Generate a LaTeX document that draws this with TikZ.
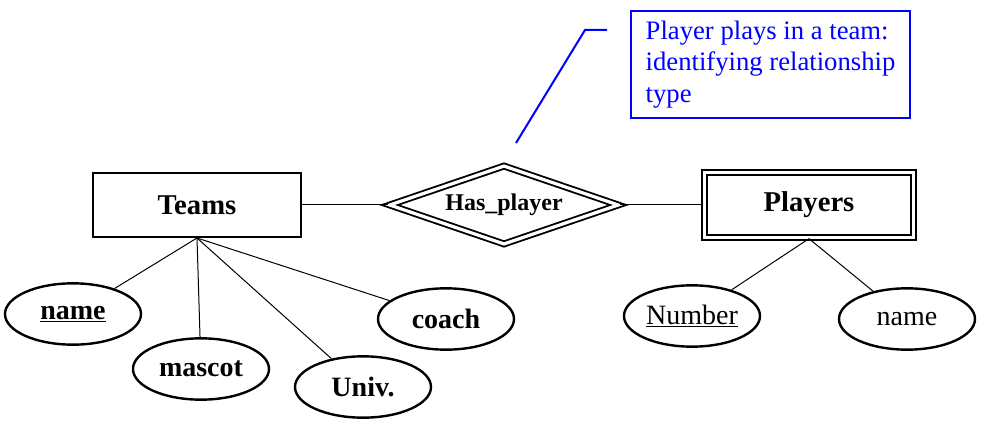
\documentclass[tikz,border=0pt]{standalone}
\usepackage{fontspec}
\setmainfont{Liberation Serif}
\usepackage{xcolor}
\usepackage{tikz}
\usetikzlibrary{shapes.geometric}
\usetikzlibrary{calc}

\begin{document}
\begin{tikzpicture}[x=0.75pt, y=-0.75pt,
  entity/.style={draw, line width=1.5pt, minimum width=156pt, minimum height=48pt, inner sep=0pt, font=\fontsize{21.5}{25}\selectfont\bfseries},
  weakentity/.style={draw, line width=1.5pt, double, double distance=2.4pt, minimum width=157pt, minimum height=49pt, inner sep=0pt, font=\fontsize{21.5}{25}\selectfont\bfseries},
  relation/.style={diamond, draw, line width=1.4pt, double, double distance=2.4pt, aspect=3, minimum width=172pt, minimum height=59pt, inner sep=0pt, font=\fontsize{18}{21}\selectfont\bfseries},
  attr/.style={ellipse, draw, line width=1.8pt, minimum width=102pt, minimum height=46pt, inner sep=0pt, font=\fontsize{21}{24}\selectfont},
  link/.style={line width=0.75pt},
  note/.style={draw=blue, text=blue, line width=1.5pt, align=left, minimum width=209pt, minimum height=80pt, inner sep=0pt, font=\fontsize{20}{23.5}\selectfont}]
  \useasboundingbox (0,0) rectangle (997,431);

  \node[entity] (teams) at (197,205) {Teams};
  \node[relation] (hasplayer) at (504,205) {Has\_player};
  \node[weakentity] (players) at (809,205) {\raisebox{-2.5pt}{Players}};

  \node[attr, font=\fontsize{21}{24}\selectfont\bfseries] (tname) at (73,314) {\underline{name}};
  \node[attr, font=\fontsize{21}{24}\selectfont\bfseries] (mascot) at (201,369) {mascot};
  \node[attr, font=\fontsize{21}{24}\selectfont\bfseries] (univ) at (363,387) {Univ.};
  \node[attr, font=\fontsize{21}{24}\selectfont\bfseries] (coach) at (446,319) {coach};
  \node[attr] (number) at (692,316) {\underline{Number}};
  \node[attr] (pname) at (907,319) {name};

  \draw[link] (teams) -- (hasplayer);
  \draw[link] (hasplayer) -- (players);
  \foreach \a in {tname, mascot, univ, coach}
    \draw[link] (teams.south) -- (\a);
  \foreach \a in {number, pname}
    \draw[link] (players.south) -- (\a);

  % callout
  \node[note] (comment) at (770.5,64.5) {Player plays in a team:\\identifying relationship\\type};
  \coordinate (tip) at (516,143);
  \coordinate (bend) at (585,30);
  \coordinate (tail) at (607,30);
  \draw[blue, line width=1.5pt] (tip) -- (bend) -- (tail);
\end{tikzpicture}
\end{document}
